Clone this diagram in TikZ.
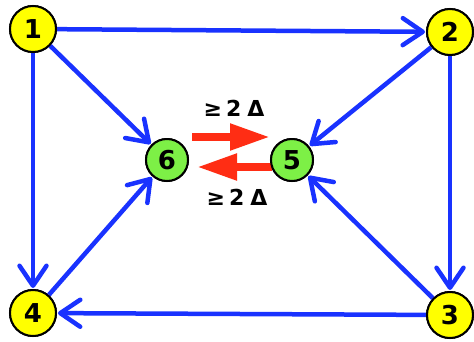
\documentclass[tikz,border=0pt]{standalone}
\usepackage{fontspec}
\setmainfont{DejaVu Sans}
\usetikzlibrary{arrows.meta}
\definecolor{nblue}{RGB}{25,50,255}
\definecolor{nred}{RGB}{255,45,20}
\definecolor{nyellow}{RGB}{255,255,0}
\definecolor{ngreen}{RGB}{125,240,70}
\tikzset{
  ynode/.style={circle,draw=black,line width=2pt,fill=nyellow,minimum size=46pt,inner sep=0pt,font=\bfseries\fontsize{26}{26}\selectfont},
  gnode/.style={circle,draw=black,line width=2pt,fill=ngreen,minimum size=42pt,inner sep=0pt,font=\bfseries\fontsize{26}{26}\selectfont},
  barrow/.style={draw=nblue,line width=4.5pt,-{Straight Barb[length=20pt,width=27pt,round]},shorten >=1pt},
  rarrow/.style={draw=nred,line width=8pt,-{Triangle[length=40pt,width=25pt]}},
  lbl/.style={font=\bfseries\fontsize{22}{22}\selectfont,inner sep=0pt}
}
\begin{document}
\begin{tikzpicture}[x=1pt,y=-1pt]
\useasboundingbox (0,0) rectangle (474,341);
\node[ynode] (n1) at (33,29) {1};
\node[ynode] (n2) at (450,32) {2};
\node[ynode] (n3) at (450,315) {3};
\node[ynode] (n4) at (33,313) {4};
\node[gnode] (n6) at (167,160) {6};
\node[gnode] (n5) at (292,160) {5};
\coordinate (a1) at (192,137);
\coordinate (a2) at (270,137);
\coordinate (b1) at (272,167);
\coordinate (b2) at (197,167);
\draw[barrow] (n1) -- (n2);
\draw[barrow] (n1) -- (n6);
\draw[barrow] (n1) -- (n4);
\draw[barrow] (n2) -- (n5);
\draw[barrow] (n2) -- (n3);
\draw[barrow] (n3) -- (n5);
\draw[barrow] (n3) -- (n4);
\draw[barrow] (n4) -- (n6);
\draw[rarrow] (a1) -- (a2);
\draw[rarrow] (b1) -- (b2);
\node[lbl] (t1) at (234,108) {≥\hspace{4pt}2\hspace{6pt}Δ};
\node[lbl] (t2) at (237,197) {≥\hspace{4pt}2\hspace{6pt}Δ};
\node[ynode] at (n1) {1};
\node[ynode] at (n2) {2};
\node[ynode] at (n3) {3};
\node[ynode] at (n4) {4};
\node[gnode] at (n6) {6};
\node[gnode] at (n5) {5};
\end{tikzpicture}
\end{document}
